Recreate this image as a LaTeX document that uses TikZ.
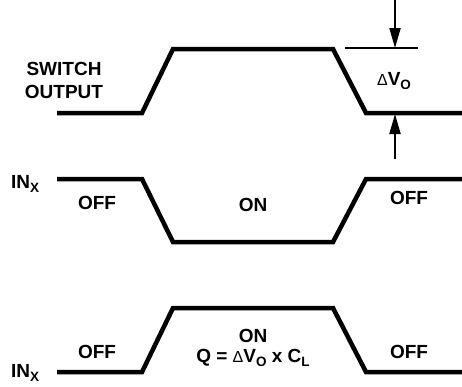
\documentclass[tikz,border=0pt]{standalone}
\usepackage{fontspec}
\setmainfont{Liberation Sans}
\usetikzlibrary{arrows.meta}
\newcommand{\lblsub}[1]{\raisebox{-0.35ex}{\fontsize{13.5}{14}\selectfont #1}}
\newcommand{\smdelta}{{\fontsize{16}{17}\selectfont\mdseries Δ}}
\begin{document}
\begin{tikzpicture}[x=1pt,y=-1pt,
  wave/.style={line width=4.5pt,line cap=butt,line join=miter},
  lbl/.style={font=\fontsize{19}{23}\selectfont\bfseries,inner sep=0pt,align=center},
  dimarrow/.style={line width=2pt,-{Triangle[length=20pt,width=11pt]}},
  tick/.style={line width=1.5pt}]
\useasboundingbox (0,0) rectangle (462,386);
% waveform 1 : switch output
\coordinate (a1) at (57,113); \coordinate (a2) at (142,113);
\coordinate (a3) at (173,49); \coordinate (a4) at (333,49);
\coordinate (a5) at (366,113); \coordinate (a6) at (462,113);
\draw[wave] (a1) -- (a2) -- (a3) -- (a4) -- (a5) -- (a6);
% waveform 2 : IN_X (active low)
\coordinate (b1) at (57,179); \coordinate (b2) at (142,179);
\coordinate (b3) at (173,242); \coordinate (b4) at (333,242);
\coordinate (b5) at (366,179); \coordinate (b6) at (462,179);
\draw[wave] (b1) -- (b2) -- (b3) -- (b4) -- (b5) -- (b6);
% waveform 3 : IN_X (active high)
\coordinate (c1) at (57,372); \coordinate (c2) at (142,372);
\coordinate (c3) at (173,308); \coordinate (c4) at (333,308);
\coordinate (c5) at (366,372); \coordinate (c6) at (462,372);
\draw[wave] (c1) -- (c2) -- (c3) -- (c4) -- (c5) -- (c6);
% delta V dimension
\coordinate (t0) at (395,0); \coordinate (t1) at (395,48);
\coordinate (u0) at (395,159); \coordinate (u1) at (395,114);
\coordinate (k0) at (345,48); \coordinate (k1) at (418,48);
\draw[tick] (k0) -- (k1);
\draw[dimarrow] (t0) -- (t1);
\draw[dimarrow] (u0) -- (u1);
% labels
\node[lbl] (sw) at (64,80) {SWITCH\\OUTPUT};
\node[lbl] (dv) at (394,81) {\smdelta V\lblsub{O}};
\node[lbl,anchor=west] (in1) at (11,184) {IN\lblsub{X}};
\node[lbl] (off1) at (97,203) {OFF};
\node[lbl] (on1) at (253,205) {ON};
\node[lbl] (off2) at (409,198) {OFF};
\node[lbl] (off3) at (97,352) {OFF};
\node[lbl] (on2) at (253,336) {ON};
\node[lbl] (q) at (253,358) {Q = \smdelta V\lblsub{O} x C\lblsub{L}};
\node[lbl] (off4) at (409,352) {OFF};
\node[lbl,anchor=west] (in2) at (11,373) {IN\lblsub{X}};
\end{tikzpicture}
\end{document}
